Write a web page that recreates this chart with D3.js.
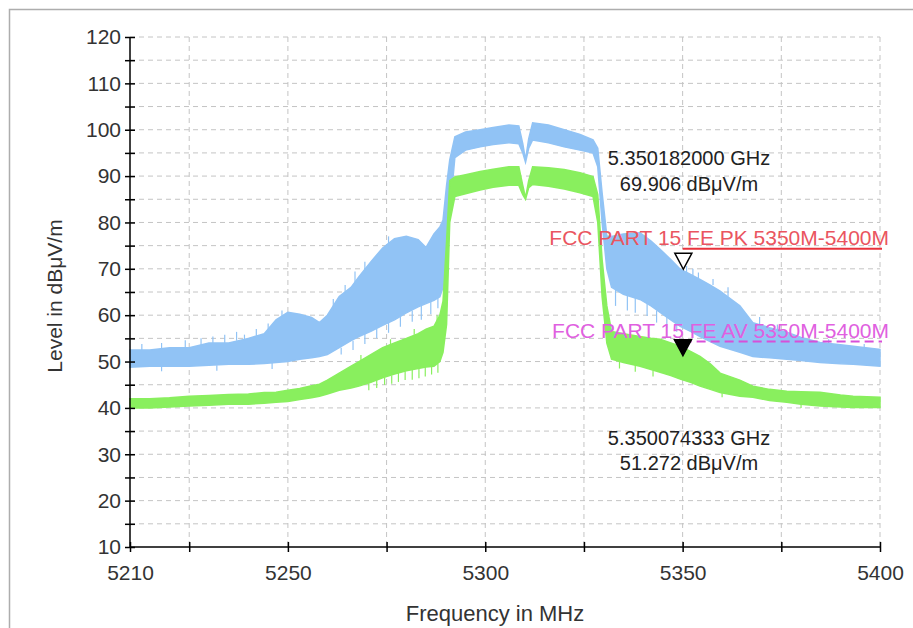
<!DOCTYPE html>
<html>
<head>
<meta charset="utf-8">
<script src="https://cdn.jsdelivr.net/npm/d3@7"></script>
<style>
    body { margin: 0; background: #fff; }
    svg text { font-family: "Liberation Sans", Arial, sans-serif; }
</style>
</head>
<body>
<svg id="chart" width="913" height="628"></svg>
<script>
// frequency points (MHz) and the band of the two traces (dBµV/m)
const freqs  = [5210, 5215, 5220, 5225, 5230, 5235, 5240, 5244, 5247, 5250, 5253, 5256, 5258, 5260, 5263, 5266, 5268, 5271, 5274, 5277, 5280, 5283, 5285, 5287, 5288.5, 5289.3, 5290.2, 5291, 5292.3, 5295, 5298.7, 5302, 5306, 5308.5, 5309.5, 5310.2, 5311, 5312, 5316, 5320, 5324, 5327.3, 5328.5, 5329.6, 5330.8, 5332, 5335, 5339.2, 5342, 5344.3, 5347, 5349.4, 5352, 5354.4, 5357, 5359.5, 5364.5, 5367.8, 5372, 5376.4, 5380, 5384.8, 5390, 5393.2, 5400];
const peakHi = [52.5, 52.5, 53, 53, 54, 54, 55, 56, 59, 60.6, 60.2, 59.5, 58.4, 60, 64, 66, 68.3, 71.5, 74.5, 76.5, 77, 76.3, 74.6, 77.5, 79, 80.5, 88, 93.5, 98.5, 99.5, 100, 100.5, 101, 100.8, 97, 93.5, 98, 101.5, 101, 100, 99, 97.8, 96, 86.4, 77, 77, 77.5, 77.8, 76, 74.2, 72, 69.9, 68.8, 67.7, 66.5, 65.2, 62, 58.4, 57.3, 56.3, 55.2, 54.1, 53.6, 53.3, 52.6];
const peakLo = [48.8, 49, 49, 49, 49.2, 49.4, 49.4, 49.6, 49.8, 50, 50.5, 50.8, 51.1, 51.5, 53, 54.5, 55.4, 56.5, 57.8, 59, 60.5, 61.8, 62.5, 63.2, 64, 66, 74, 82, 94, 95.6, 96.3, 96.8, 97.2, 97, 95, 93, 96, 97.8, 97.2, 96.3, 95.6, 95, 92, 80, 70, 66, 64.5, 63.4, 62, 60.6, 59, 57.6, 56.5, 55.4, 54.3, 53.3, 52, 51.1, 50.8, 50.5, 50.2, 49.8, 49.5, 49.4, 49];
const avgHi  = [42, 42, 42.2, 42.5, 42.7, 42.9, 43, 43.3, 43.4, 43.8, 44.2, 44.8, 45.1, 46, 47.5, 49, 50, 51.5, 53, 54, 55, 56, 57, 57.6, 60, 63, 76, 89, 89.8, 90.3, 91, 91.5, 92, 92, 88, 85.3, 89, 92, 91.8, 91.4, 90.7, 89.9, 86, 72, 62, 56.5, 56, 55.4, 55, 54.8, 54, 53.3, 52.2, 51.1, 49.5, 47.5, 46, 44.7, 44, 43.6, 43.5, 43.4, 42.8, 42.5, 42.3];
const avgLo  = [40, 40, 40.2, 40.4, 40.6, 40.8, 40.8, 41, 41.2, 41.4, 41.8, 42.2, 42.5, 43, 43.8, 44.3, 44.7, 45.5, 46.5, 47.3, 48, 48.5, 48.8, 49, 50, 52, 58, 80, 85.6, 86.2, 87, 87.6, 88, 88, 86, 85, 87.5, 88.2, 87.8, 87.2, 86.4, 85.6, 80, 64, 54, 50.5, 49.8, 49, 48.3, 47.7, 47, 46.2, 45.5, 44.7, 44, 43.3, 42.5, 42.3, 41.6, 41.2, 40.8, 40.4, 40.2, 40.1, 40.1];

// single spikes that stick out of the bands: [frequency, from, to]
const peakSpikes = [
    [5213, 52.5, 53.8], [5218, 52.5, 54], [5224, 53, 54.6], [5228, 53.5, 55], [5231, 54, 55.4],
    [5234, 54, 55.8], [5237, 54.5, 56.4], [5239, 54.5, 55.8], [5242, 55.5, 57], [5245, 56, 58.2],
    [5248.5, 59.5, 61], [5261.5, 61, 63.5], [5264.5, 64.5, 66.5], [5267, 67, 69.4], [5269.5, 69, 71.5],
    [5275.5, 75, 77], [5351, 69, 70.6], [5352.6, 68.5, 70], [5354, 67.8, 69.2], [5357.7, 66.5, 67.8],
    [5361.5, 64, 66], [5369.5, 58, 59.6], [5374, 56.8, 58], [5387, 53.8, 54.8], [5396, 53, 53.8],
    [5263.5, 53, 51.5], [5266.5, 54.5, 52.5], [5269.5, 56, 53.8], [5272.5, 57, 55], [5275.5, 58.5, 56.2],
    [5278.5, 59.7, 57.5], [5281.5, 61, 58.6], [5283.8, 62, 59], [5286.2, 63, 60.2], [5288, 63.8, 61.5],
    [5333, 65.5, 62], [5336, 64.3, 61], [5338, 63.8, 60.5], [5341, 62.4, 59.8], [5343.4, 61, 58.4],
    [5346, 59.6, 57.2], [5348.5, 58, 56.4], [5246, 49.7, 48.4], [5232, 49.2, 48], [5218, 49, 47.9]
];
const avgSpikes = [
    [5270.5, 45.3, 43.8], [5272.5, 46, 44.3], [5274.5, 46.5, 45], [5276.3, 47, 45.2], [5278, 47.6, 45.6],
    [5279.7, 47.9, 46], [5281.5, 48.3, 46.1], [5283.2, 48.5, 46.4], [5284.8, 48.8, 46.8], [5286.4, 49, 47.2],
    [5288, 49.6, 47.6], [5268.5, 50.2, 51.4], [5276, 53.6, 54.8], [5282, 55.8, 57], [5287.8, 58.5, 60],
    [5334, 50, 48.5], [5338, 49.2, 47.8], [5342.5, 48.1, 46.8], [5360, 43.2, 42.3], [5380, 40.8, 40]
];

// limit lines
const limitNames  = ["FCC PART 15 FE PK 5350M-5400M", "FCC PART 15 FE AV 5350M-5400M"];
const limitLevels = [74, 54];
const limitFreqs  = [5350, 5400];

// markers
const markerFreqs  = [5350.182, 5350.074333];
const markerLevels = [69.906, 51.272];
const markerLabels = [["5.350182000 GHz", "69.906 dBμV/m"], ["5.350074333 GHz", "51.272 dBμV/m"]];

// axis ticks
const xTicks  = [5210, 5225, 5250, 5275, 5300, 5325, 5350, 5375, 5400];
const xLabels = [5210, 5250, 5300, 5350, 5400];
const yTicks  = d3.range(10, 121, 5);
const yLabels = d3.range(10, 121, 10);

const svg = d3.select("#chart");
const plotL = 130, plotR = 880, plotT = 37, plotB = 547;
const blue = "#91c3f5", green = "#89ef5e";

const x = d3.scaleLinear().domain([5210, 5400]).range([plotL, plotR]);
const y = d3.scaleLinear().domain([10, 120]).range([plotB, plotT]);

// outer frame (cut by the window on the right and bottom)
svg.append("rect")
    .attr("x", 9.5).attr("y", 9.5)
    .attr("width", 1000).attr("height", 1000)
    .attr("fill", "none")
    .attr("stroke", "#adadad")
    .attr("stroke-width", 1.5);

// grid
const grid = svg.append("g").attr("stroke", "#c4c4c4").attr("stroke-dasharray", "5,4").attr("stroke-width", 1);
yTicks.filter((d) => d > 10).forEach((t) => {
    grid.append("line").attr("x1", plotL).attr("x2", plotR).attr("y1", y(t)).attr("y2", y(t));
});
xTicks.filter((d) => d > 5210).forEach((t) => {
    grid.append("line").attr("x1", x(t)).attr("x2", x(t)).attr("y1", plotT).attr("y2", plotB);
});

// traces as bands
const rows = freqs.map((f, i) => ({ f, ph: peakHi[i], pl: peakLo[i], ah: avgHi[i], al: avgLo[i] }));

const peakArea = d3.area().x((d) => x(d.f)).y0((d) => y(d.pl)).y1((d) => y(d.ph));
const avgArea = d3.area().x((d) => x(d.f)).y0((d) => y(d.al)).y1((d) => y(d.ah));

function drawSpikes(data, color) {
    svg.append("g")
        .selectAll("line")
        .data(data)
        .enter()
        .append("line")
        .attr("x1", (d) => x(d[0])).attr("x2", (d) => x(d[0]))
        .attr("y1", (d) => y(d[1])).attr("y2", (d) => y(d[2]))
        .attr("stroke", color)
        .attr("stroke-width", 1.2);
}

svg.append("path").datum(rows).attr("d", peakArea)
    .attr("fill", blue).attr("stroke", blue).attr("stroke-width", 1.5);
drawSpikes(peakSpikes, blue);
svg.append("path").datum(rows).attr("d", avgArea)
    .attr("fill", green).attr("stroke", green).attr("stroke-width", 1.5);
drawSpikes(avgSpikes, green);

// limit lines and their names
const limitColors = ["#e8323c", "#d84fd8"];
const limitTextColors = ["#ea5560", "#e060e0"];
limitLevels.forEach((lv, i) => {
    svg.append("line")
        .attr("x1", x(limitFreqs[0])).attr("x2", x(limitFreqs[1]) + 2)
        .attr("y1", y(lv) - 1.5).attr("y2", y(lv) - 1.5)
        .attr("stroke", limitColors[i])
        .attr("stroke-width", 2)
        .attr("stroke-dasharray", i == 1 ? "9,5" : null);
    svg.append("text")
        .attr("x", 889).attr("y", y(lv) - 5)
        .attr("text-anchor", "end")
        .attr("fill", limitTextColors[i])
        .style("font-size", "21px")
        .text(limitNames[i]);
});

// markers (triangle tip sits on the level)
markerFreqs.forEach((f, i) => {
    const mx = x(f), my = y(markerLevels[i]);
    svg.append("path")
        .attr("d", `M${mx - 8.5},${my - 16}L${mx + 8.5},${my - 16}L${mx},${my}Z`)
        .attr("fill", i == 0 ? "#fff" : "#000")
        .attr("stroke", "#000")
        .attr("stroke-width", 1.5);
});

const labelY = [[165, 191], [445, 470]];
markerLabels.forEach((lines, i) => {
    lines.forEach((t, j) => {
        svg.append("text")
            .attr("x", 689).attr("y", labelY[i][j])
            .attr("text-anchor", "middle")
            .attr("fill", "#222")
            .style("font-size", "20px")
            .text(t);
    });
});

// axes
const yAxis = d3.axisLeft(y)
    .tickValues(yTicks)
    .tickSize(5)
    .tickPadding(4)
    .tickFormat((d) => (yLabels.includes(d) ? d : ""));
const gy = svg.append("g").attr("transform", `translate(${plotL},0)`).call(yAxis);

const xAxis = d3.axisBottom(x)
    .tickValues(xTicks)
    .tickSize(5)
    .tickPadding(13)
    .tickFormat((d) => (xLabels.includes(d) ? d : ""));
const gx = svg.append("g").attr("transform", `translate(0,${plotB})`).call(xAxis);

gy.select(".domain").attr("d", `M0,${plotT}V${plotB}`);
gx.select(".domain").attr("d", `M${plotL},0H${plotR}`);
gy.selectAll(".tick line").attr("x1", 5);
gx.selectAll(".tick line").attr("y1", -5);
[gx, gy].forEach((g) => {
    g.select(".domain").attr("stroke", "#000").attr("stroke-width", 1.5);
    g.selectAll(".tick line").attr("stroke", "#000").attr("stroke-width", 1.5);
    g.selectAll("text")
        .attr("fill", "#333")
        .style("font-family", '"Liberation Sans", Arial, sans-serif')
        .style("font-size", "21px");
});

// axis titles
svg.append("text")
    .attr("x", 495).attr("y", 621)
    .attr("text-anchor", "middle")
    .attr("fill", "#333")
    .style("font-size", "22px")
    .text("Frequency in MHz");

svg.append("text")
    .attr("transform", "translate(62,296) rotate(-90)")
    .attr("text-anchor", "middle")
    .attr("fill", "#333")
    .style("font-size", "21px")
    .text("Level in dBμV/m");
</script>
</body>
</html>
